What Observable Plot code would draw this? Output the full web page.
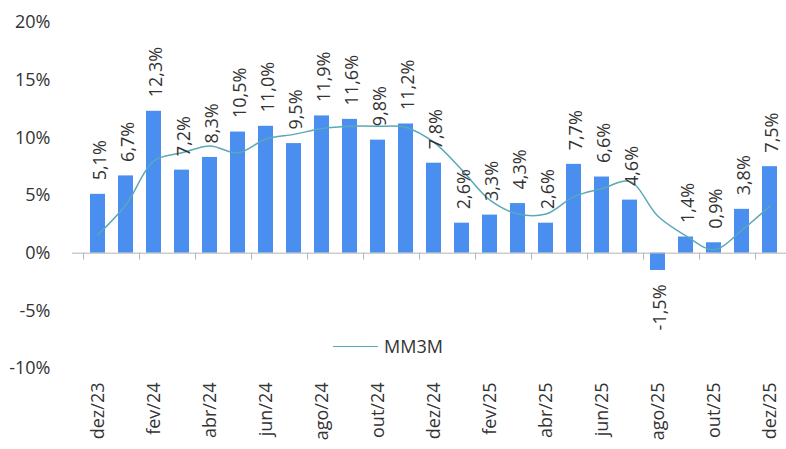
<!DOCTYPE html>
<html>
<head>
<meta charset="utf-8">
<script src="https://cdn.jsdelivr.net/npm/d3@7"></script>
<script src="https://cdn.jsdelivr.net/npm/@observablehq/plot@0.6"></script>
<style>
  html, body { margin: 0; padding: 0; background: #fff; }
  #wrap { position: relative; width: 786px; height: 449px; overflow: hidden; }
  #legend { position: absolute; left: 333px; top: 334px; display: flex; align-items: center;
    font-family: "Open Sans", sans-serif; font-size: 18px; color: #333; }
  #legend .sw { width: 45px; height: 0; border-top: 1.5px solid #5aa8b8; margin-right: 6px; }
</style>
</head>
<body>
<div id="wrap"><div id="legend"><span class="sw"></span><span>MM3M</span></div></div>
<script>
const months = ["dez/23","jan/24","fev/24","mar/24","abr/24","mai/24","jun/24","jul/24","ago/24","set/24","out/24","nov/24",
  "dez/24","jan/25","fev/25","mar/25","abr/25","mai/25","jun/25","jul/25","ago/25","set/25","out/25","nov/25","dez/25"];
const variacao = [5.1, 6.7, 12.3, 7.2, 8.3, 10.5, 11.0, 9.5, 11.9, 11.6, 9.8, 11.2,
  7.8, 2.6, 3.3, 4.3, 2.6, 7.7, 6.6, 4.6, -1.5, 1.4, 0.9, 3.8, 7.5];
const mm3m = [1.6, 4.2, 8.0, 8.7, 9.3, 8.7, 9.9, 10.3, 10.8, 11.0, 11.0, 10.9,
  9.6, 7.2, 4.6, 3.4, 3.4, 4.9, 5.6, 6.2, 3.2, 1.5, 0.3, 2.0, 4.1];
const xTickLabels = ["dez/23","fev/24","abr/24","jun/24","ago/24","out/24","dez/24","fev/25","abr/25","jun/25","ago/25","out/25","dez/25"];
const yTicks = [-10, -5, 0, 5, 10, 15, 20];

const data = months.map((m, i) => ({month: m, value: variacao[i], avg: mm3m[i]}));
const fmt = v => v.toFixed(1).replace(".", ",") + "%";
const textColor = "#333333";

const chart = Plot.plot({
  width: 786,
  height: 449,
  marginLeft: 72,
  marginRight: 0,
  marginTop: 22,
  marginBottom: 81,
  x: {type: "band", domain: months, range: [72, 794], paddingInner: 0.48, paddingOuter: 0.24, axis: null, label: null},
  y: {domain: [-10, 20], range: [368, 22], axis: null, label: null},
  style: {fontFamily: "'Open Sans', sans-serif", fontSize: "18px", color: textColor, background: "transparent"},
  marks: [
    Plot.axisY({ticks: yTicks, tickFormat: d => d + "%", tickSize: 0, tickPadding: 22, fill: textColor, fontSize: 18, label: null}),
    Plot.barY(data, {x: "month", y: "value", fill: "#4a8ef0"}),
    Plot.ruleY([0], {stroke: "#b4b4b4", strokeWidth: 1}),
    Plot.ruleX(xTickLabels, {x: d => d, y1: 0, y2: -0.6, dx: -14.44, stroke: "#b4b4b4"}),
    Plot.axisX({ticks: xTickLabels, tickSize: 0, tickPadding: 14, tickRotate: -90, fill: textColor, fontSize: 18, label: null}),
    Plot.line(data, {x: "month", y: "avg", stroke: "#5aa8b8", strokeWidth: 1.5, curve: "catmull-rom"}),
    Plot.text(data.filter(d => d.value >= 0), {x: "month", y: "value", text: d => fmt(d.value), rotate: -90,
      textAnchor: "start", dy: -14, dx: 2, fill: textColor, fontSize: 18}),
    Plot.text(data.filter(d => d.value < 0), {x: "month", y: "value", text: d => fmt(d.value), rotate: -90,
      textAnchor: "end", dy: 14, dx: 2, fill: textColor, fontSize: 18})
  ]
});
chart.style.position = "absolute";
chart.style.left = "0";
chart.style.top = "0";
document.getElementById("wrap").prepend(chart);
</script>
</body>
</html>
